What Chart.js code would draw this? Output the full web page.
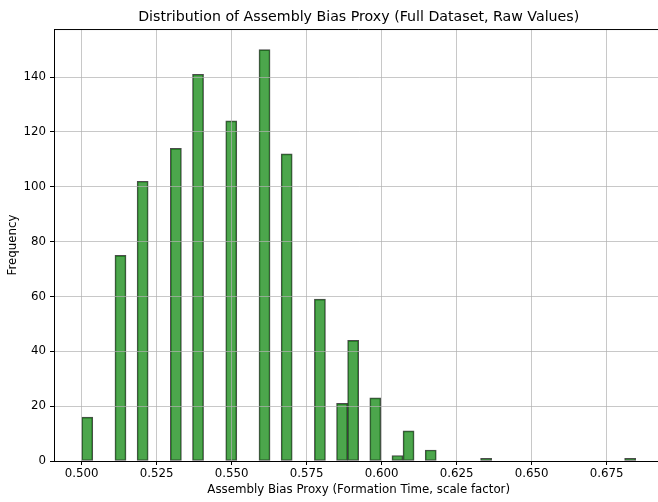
<!DOCTYPE html>
<html>
<head>
<meta charset="utf-8">
<title>Assembly Bias Proxy</title>
<script src="https://cdn.jsdelivr.net/npm/chart.js@4.4.1/dist/chart.umd.min.js"></script>
<style>
    html, body { margin: 0; padding: 0; background: #fff; overflow: hidden; width: 658px; height: 502px; }
    #wrap { position: absolute; left: 0; top: 0; width: 670px; height: 502px; }
</style>
</head>
<body>
<div id="wrap"><canvas id="hist" width="670" height="502"></canvas></div>
<script>
/*
 *  Data (50 bins, empty bins left out)
 */

const binCenters = [0.501847, 0.512927, 0.520313, 0.531393, 0.538780, 0.549860, 0.560940, 0.568326,
                    0.579406, 0.586793, 0.590486, 0.597872, 0.605259, 0.608952, 0.616339, 0.634805, 0.682818];
const binCounts  = [16, 75, 102, 114, 141, 124, 150, 112, 59, 21, 44, 23, 2, 11, 4, 1, 1];

const xTicks = [0.500, 0.525, 0.550, 0.575, 0.600, 0.625, 0.650, 0.675];
const yTicks = [0, 20, 40, 60, 80, 100, 120, 140];

const xMin = 0.490767, xMax = 0.693900;
const yMax = 157.5;

/*
 *  Top spine (matplotlib frame)
 */

const topSpine = {
    id: 'topSpine',
    afterDraw(chart) {
        const {ctx, chartArea} = chart;
        ctx.save();
        ctx.strokeStyle = '#000';
        ctx.lineWidth = 1;
        ctx.beginPath();
        ctx.moveTo(chartArea.left, chartArea.top + 0.5);
        ctx.lineTo(chartArea.right, chartArea.top + 0.5);
        ctx.stroke();
        ctx.restore();
    }
};

Chart.defaults.font.family = '"DejaVu Sans", sans-serif';
Chart.defaults.color = '#000';

const tickFont = {size: 11.8};
const gridStyle = {
    color: 'rgba(176,176,176,0.7)',
    lineWidth: 1,
    z: 1,
    offset: false,
    tickColor: '#000',
    tickLength: 4,
    tickWidth: 1
};

new Chart(document.getElementById('hist').getContext('2d'), {
    type: 'bar',
    data: {
        datasets: [{
            label: 'Frequency',
            data: binCenters.map((x, i) => ({x: x, y: binCounts[i]})),
            backgroundColor: 'rgba(0,128,0,0.7)',
            borderColor: 'rgba(0,0,0,0.7)',
            borderWidth: 1,
            borderSkipped: false,
            barPercentage: 1,
            categoryPercentage: 1
        }]
    },
    options: {
        responsive: false,
        animation: false,
        devicePixelRatio: 1,
        layout: {padding: {top: 0, left: 0, right: 6.6, bottom: 0}},
        plugins: {
            legend: {display: false},
            tooltip: {enabled: false},
            title: {
                display: true,
                fullSize: false,
                text: 'Distribution of Assembly Bias Proxy (Full Dataset, Raw Values)',
                font: {size: 14.2, weight: 'normal'},
                color: '#000',
                padding: {top: 8.5, bottom: 3.5}
            }
        },
        scales: {
            x: {
                type: 'linear',
                offset: false,
                min: xMin,
                max: xMax,
                afterBuildTicks: (scale) => { scale.ticks = xTicks.map(v => ({value: v})); },
                afterFit: (scale) => { scale.height = 41; },
                ticks: {
                    font: tickFont,
                    padding: 2,
                    maxRotation: 0,
                    callback: (v) => Number(v).toFixed(3)
                },
                grid: gridStyle,
                border: {display: true, color: '#000', width: 1, z: 2},
                title: {
                    display: true,
                    text: 'Assembly Bias Proxy (Formation Time, scale factor)',
                    font: {size: 11.8},
                    padding: {top: 0, bottom: 4.8}
                }
            },
            y: {
                min: 0,
                max: yMax,
                afterBuildTicks: (scale) => { scale.ticks = yTicks.map(v => ({value: v})); },
                afterFit: (scale) => { scale.width = 54; },
                ticks: {
                    font: tickFont,
                    padding: 4,
                    callback: (v) => String(v)
                },
                grid: gridStyle,
                border: {display: true, color: '#000', width: 1, z: 2},
                title: {
                    display: true,
                    text: 'Frequency',
                    font: {size: 11.8},
                    padding: {top: 6.2, bottom: 0}
                }
            }
        }
    },
    plugins: [topSpine]
});
</script>
</body>
</html>
